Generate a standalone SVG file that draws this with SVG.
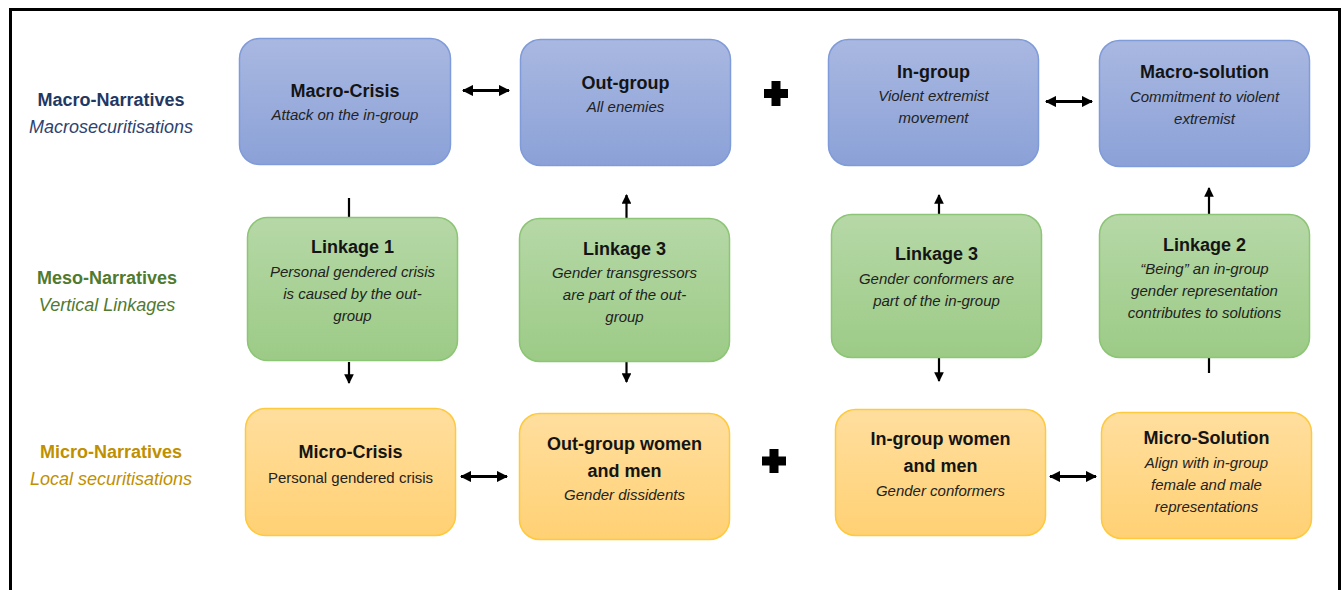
<svg xmlns="http://www.w3.org/2000/svg" width="1341" height="590" viewBox="0 0 1341 590">
<defs>
<linearGradient id="gBlue" x1="0" y1="0" x2="0" y2="1"><stop offset="0" stop-color="#A9B8E1"/><stop offset="1" stop-color="#8BA1D7"/></linearGradient>
<linearGradient id="gGreen" x1="0" y1="0" x2="0" y2="1"><stop offset="0" stop-color="#B6D8A7"/><stop offset="1" stop-color="#9CCB86"/></linearGradient>
<linearGradient id="gOrange" x1="0" y1="0" x2="0" y2="1"><stop offset="0" stop-color="#FFDE9E"/><stop offset="1" stop-color="#FFD174"/></linearGradient>
<marker id="bigHead" viewBox="0 0 10 10" refX="9" refY="5" markerWidth="3.7" markerHeight="3.7" orient="auto-start-reverse" markerUnits="strokeWidth"><path d="M0,0 L10,5 L0,10 Z" fill="#000"/></marker>
<marker id="smallHead" viewBox="0 0 10 10" refX="9" refY="5" markerWidth="4.4" markerHeight="4.4" orient="auto-start-reverse" markerUnits="strokeWidth"><path d="M0,0 L10,5 L0,10 Z" fill="#000"/></marker>
<style>
.blue{fill:url(#gBlue);stroke:#7F9BD9;stroke-width:1.5}
.green{fill:url(#gGreen);stroke:#8CC575;stroke-width:1.5}
.orange{fill:url(#gOrange);stroke:#FFC93E;stroke-width:1.5}
text{font-family:"Liberation Sans",Arial,sans-serif;text-anchor:middle}
.t{font-size:18px;font-weight:bold;fill:#141414}
.s{font-size:15px;font-style:italic;fill:#222}
.n{font-size:15px;fill:#222}
.lb{font-size:18px;font-weight:bold}
.li{font-size:18px;font-style:italic}
.dbl{stroke:#000;stroke-width:3;fill:none;marker-start:url(#bigHead);marker-end:url(#bigHead)}
.v{stroke:#000;stroke-width:2.2;fill:none}
.va{stroke:#000;stroke-width:2.2;fill:none;marker-end:url(#smallHead)}
</style>
</defs>
<rect width="1341" height="590" fill="#fff"/>
<path d="M10.5,590 V9.5 H1339.5 V590" fill="none" stroke="#000" stroke-width="3"/>

<g id="labels">
<text class="lb" x="111" y="106" fill="#1F3864">Macro-Narratives</text>
<text class="li" x="111" y="133" fill="#2E4370">Macrosecuritisations</text>
<text class="lb" x="107" y="284" fill="#4F7A2F">Meso-Narratives</text>
<text class="li" x="107" y="311" fill="#4F7A2F">Vertical Linkages</text>
<text class="lb" x="111" y="458" fill="#BF9000">Micro-Narratives</text>
<text class="li" x="111" y="485" fill="#BF9000">Local securitisations</text>
</g>

<g id="connectors">
<path class="dbl" d="M463,90.5 H509"/>
<path class="dbl" d="M1046,101.5 H1092"/>
<path class="dbl" d="M461,476.5 H507"/>
<path class="dbl" d="M1050,476.5 H1096"/>
<path d="M771.5,81 h9 v8 h7.5 v9 h-7.5 v8 h-9 v-8 h-7.5 v-9 h7.5 Z" fill="#000"/>
<path d="M769.5,449 h9 v7.5 h7.5 v9 h-7.5 v7.5 h-9 v-7.5 h-7.5 v-9 h7.5 Z" fill="#000"/>
<path class="v" d="M349,198 V217"/>
<path class="va" d="M349,362 V383"/>
<path class="va" d="M626.5,218 V195"/>
<path class="va" d="M626.5,362 V382"/>
<path class="va" d="M939,214 V195"/>
<path class="va" d="M939,358 V381"/>
<path class="va" d="M1209,214 V188"/>
<path class="v" d="M1209,358 V373"/>
</g>

<g id="macro-crisis">
<rect class="blue" x="239.5" y="38.5" width="211" height="126" rx="20"/>
<text class="t" x="345" y="97">Macro-Crisis</text>
<text class="s" x="345" y="120">Attack on the in-group</text>
</g>
<g id="out-group">
<rect class="blue" x="520.5" y="39.5" width="210" height="126" rx="20"/>
<text class="t" x="625.5" y="89">Out-group</text>
<text class="s" x="625.5" y="112">All enemies</text>
</g>
<g id="in-group">
<rect class="blue" x="828.5" y="39.5" width="210" height="126" rx="20"/>
<text class="t" x="933.5" y="78">In-group</text>
<text class="s" x="933.5" y="101">Violent extremist</text>
<text class="s" x="933.5" y="123">movement</text>
</g>
<g id="macro-solution">
<rect class="blue" x="1099.5" y="40.5" width="210" height="126" rx="20"/>
<text class="t" x="1204.5" y="78">Macro-solution</text>
<text class="s" x="1204.5" y="102">Commitment to violent</text>
<text class="s" x="1204.5" y="124">extremist</text>
</g>

<g id="linkage-1">
<rect class="green" x="247.5" y="217.5" width="210" height="143" rx="20"/>
<text class="t" x="352.5" y="253">Linkage 1</text>
<text class="s" x="352.5" y="277">Personal gendered crisis</text>
<text class="s" x="352.5" y="299">is caused by the out-</text>
<text class="s" x="352.5" y="321">group</text>
</g>
<g id="linkage-3-out">
<rect class="green" x="519.5" y="218.5" width="210" height="143" rx="20"/>
<text class="t" x="624.5" y="255">Linkage 3</text>
<text class="s" x="624.5" y="278">Gender transgressors</text>
<text class="s" x="624.5" y="300">are part of the out-</text>
<text class="s" x="624.5" y="322">group</text>
</g>
<g id="linkage-3-in">
<rect class="green" x="831.5" y="214.5" width="210" height="143" rx="20"/>
<text class="t" x="936.5" y="260">Linkage 3</text>
<text class="s" x="936.5" y="284">Gender conformers are</text>
<text class="s" x="936.5" y="306">part of the in-group</text>
</g>
<g id="linkage-2">
<rect class="green" x="1099.5" y="214.5" width="210" height="143" rx="20"/>
<text class="t" x="1204.5" y="251">Linkage 2</text>
<text class="s" x="1204.5" y="274">“Being” an in-group</text>
<text class="s" x="1204.5" y="296">gender representation</text>
<text class="s" x="1204.5" y="318">contributes to solutions</text>
</g>

<g id="micro-crisis">
<rect class="orange" x="245.5" y="408.5" width="210" height="127" rx="20"/>
<text class="t" x="350.5" y="458">Micro-Crisis</text>
<text class="n" x="350.5" y="483">Personal gendered crisis</text>
</g>
<g id="out-group-women-men">
<rect class="orange" x="519.5" y="413.5" width="210" height="126" rx="20"/>
<text class="t" x="624.5" y="450">Out-group women</text>
<text class="t" x="624.5" y="477">and men</text>
<text class="s" x="624.5" y="500">Gender dissidents</text>
</g>
<g id="in-group-women-men">
<rect class="orange" x="835.5" y="409.5" width="210" height="126" rx="20"/>
<text class="t" x="940.5" y="445">In-group women</text>
<text class="t" x="940.5" y="472">and men</text>
<text class="s" x="940.5" y="496">Gender conformers</text>
</g>
<g id="micro-solution">
<rect class="orange" x="1101.5" y="412.5" width="210" height="126" rx="20"/>
<text class="t" x="1206.5" y="444">Micro-Solution</text>
<text class="s" x="1206.5" y="468">Align with in-group</text>
<text class="s" x="1206.5" y="490">female and male</text>
<text class="s" x="1206.5" y="512">representations</text>
</g>
</svg>
